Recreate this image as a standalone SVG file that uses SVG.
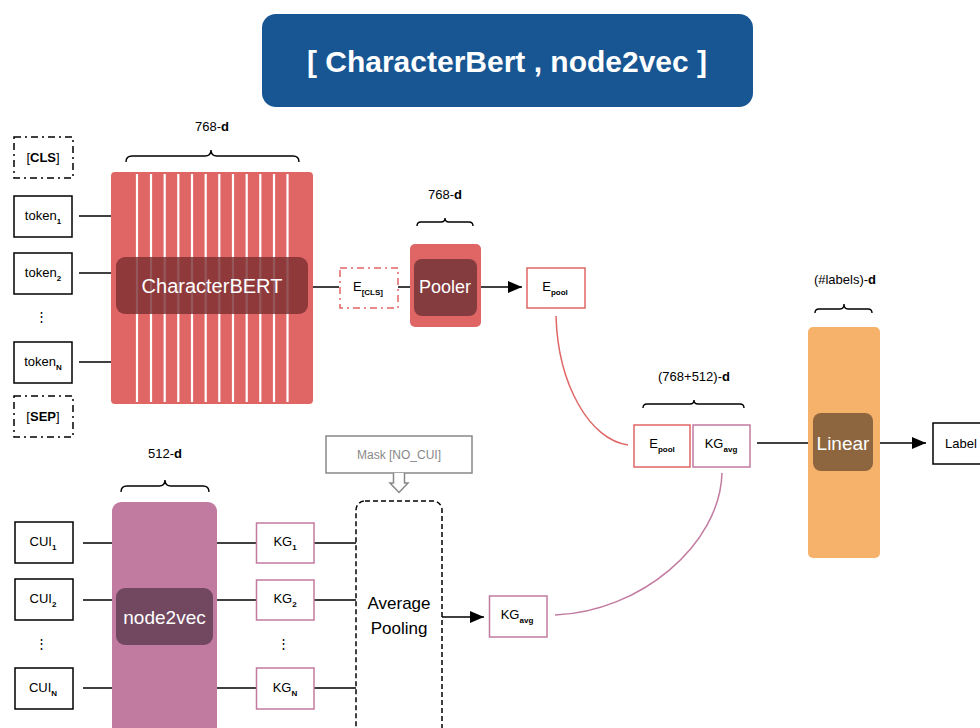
<svg xmlns="http://www.w3.org/2000/svg" width="980" height="728" viewBox="0 0 980 728">
<style>
text{font-family:"Liberation Sans",Arial,sans-serif;fill:#000}
.lbl{font-size:13px;text-anchor:middle}
.sub{font-size:8px;font-weight:bold}
.box{fill:#fff;stroke:#000;stroke-width:1.5}
.dd{fill:#fff;stroke:#000;stroke-width:1.5;stroke-dasharray:7 4 2 4}
.rbox{fill:#fff;stroke:#E06666;stroke-width:1.5}
.pbox{fill:#fff;stroke:#C27BA0;stroke-width:1.5}
.wt{fill:#fff;text-anchor:middle}
.ln{stroke:#000;stroke-width:1.5;fill:none}
.brace{stroke:#000;stroke-width:1.4;fill:none}
.dim{font-size:13px;text-anchor:middle}
</style>
<defs>
<marker id="ah2" viewBox="0 0 14 12" refX="14" refY="6" markerWidth="14" markerHeight="12" markerUnits="userSpaceOnUse" orient="auto">
<path d="M0,0 L14,6 L0,12 z" fill="#000"/>
</marker>
</defs>

<g id="title">
<rect x="262" y="14" width="491" height="93" rx="14" fill="#175693"/>
<text x="507" y="72" text-anchor="middle" style="font-size:30px;font-weight:bold;fill:#fff">[ CharacterBert , node2vec ]</text>
</g>

<g id="dims">
<path class="brace" d="M126,162 Q126,156 132,156 L205,156 Q211,156 211,150 Q211,156 217,156 L293,156 Q299,156 299,162"/>
<text class="dim" x="212" y="131">768-<tspan font-weight="bold">d</tspan></text>
<path class="brace" d="M417,226 Q417,222 421,222 L441,222 Q445,222 445,218 Q445,222 449,222 L469,222 Q473,222 473,226"/>
<text class="dim" x="445" y="199">768-<tspan font-weight="bold">d</tspan></text>
<path class="brace" d="M643,408 Q643,404 647,404 L690,404 Q694,404 694,400 Q694,404 698,404 L740,404 Q744,404 744,408"/>
<text class="dim" x="694" y="381">(768+512)-<tspan font-weight="bold">d</tspan></text>
<path class="brace" d="M815,313 Q815,309 819,309 L840,309 Q844,309 844,304 Q844,309 848,309 L868,309 Q872,309 872,313"/>
<text class="dim" x="845" y="284">(#labels)-<tspan font-weight="bold">d</tspan></text>
<path class="brace" d="M121,492 Q121,486 127,486 L159,486 Q165,486 165,480 Q165,486 171,486 L203,486 Q209,486 209,492"/>
<text class="dim" x="165" y="458">512-<tspan font-weight="bold">d</tspan></text>
</g>

<g id="connectors">
<line class="ln" x1="79" y1="216" x2="111" y2="216"/>
<line class="ln" x1="79" y1="273" x2="111" y2="273"/>
<line class="ln" x1="79" y1="362" x2="111" y2="362"/>
<line class="ln" x1="313" y1="287" x2="339" y2="287"/>
<line class="ln" x1="398" y1="287" x2="410" y2="287"/>
<line class="ln" x1="481" y1="287" x2="522" y2="287" marker-end="url(#ah2)"/>
<path d="M556,316 C558,385 590,440 628,445" fill="none" stroke="#E06666" stroke-width="1.5"/>
<path d="M722,473 C720,545 640,612 555,615" fill="none" stroke="#C27BA0" stroke-width="1.5"/>
<line class="ln" x1="757" y1="443" x2="808" y2="443"/>
<line class="ln" x1="880" y1="443" x2="926" y2="443" marker-end="url(#ah2)"/>
<line class="ln" x1="83" y1="543" x2="112" y2="543"/>
<line class="ln" x1="83" y1="600" x2="112" y2="600"/>
<line class="ln" x1="83" y1="688" x2="112" y2="688"/>
<line class="ln" x1="217" y1="543" x2="256" y2="543"/>
<line class="ln" x1="217" y1="600" x2="256" y2="600"/>
<line class="ln" x1="217" y1="688" x2="256" y2="688"/>
<line class="ln" x1="314" y1="543" x2="356" y2="543"/>
<line class="ln" x1="314" y1="600" x2="356" y2="600"/>
<line class="ln" x1="314" y1="688" x2="356" y2="688"/>
<line class="ln" x1="442" y1="617" x2="484" y2="617" marker-end="url(#ah2)"/>
</g>

<g id="cls">
<rect class="dd" x="14" y="137" width="59" height="41"/>
<text class="lbl" x="43" y="162">[<tspan font-weight="bold">CLS</tspan>]</text>
</g>
<g id="token1">
<rect class="box" x="14" y="196" width="58" height="41"/>
<text class="lbl" x="43" y="220">token<tspan class="sub" dy="4">1</tspan></text>
</g>
<g id="token2">
<rect class="box" x="14" y="253" width="58" height="41"/>
<text class="lbl" x="43" y="277">token<tspan class="sub" dy="4">2</tspan></text>
</g>
<text class="lbl" x="41" y="321">⋮</text>
<g id="tokenN">
<rect class="box" x="14" y="342" width="58" height="41"/>
<text class="lbl" x="43" y="366">token<tspan class="sub" dy="4">N</tspan></text>
</g>
<g id="sep">
<rect class="dd" x="14" y="396" width="59" height="41"/>
<text class="lbl" x="43" y="421">[<tspan font-weight="bold">SEP</tspan>]</text>
</g>

<g id="characterbert">
<rect x="111" y="172" width="202" height="232" rx="4" fill="#E06666"/>
<g stroke="#fff" stroke-width="2.2">
<line x1="137" y1="174" x2="137" y2="402"/>
<line x1="151" y1="174" x2="151" y2="402"/>
<line x1="164.7" y1="174" x2="164.7" y2="402"/>
<line x1="178.3" y1="174" x2="178.3" y2="402"/>
<line x1="192" y1="174" x2="192" y2="402"/>
<line x1="205.7" y1="174" x2="205.7" y2="402"/>
<line x1="219.3" y1="174" x2="219.3" y2="402"/>
<line x1="233" y1="174" x2="233" y2="402"/>
<line x1="246.7" y1="174" x2="246.7" y2="402"/>
<line x1="260.3" y1="174" x2="260.3" y2="402"/>
<line x1="274" y1="174" x2="274" y2="402"/>
<line x1="287.5" y1="174" x2="287.5" y2="402"/>
</g>
<rect x="116" y="257" width="192" height="57" rx="9" fill="#7A2E31" fill-opacity="0.8"/>
<text class="wt" x="212" y="293" style="font-size:20px">CharacterBERT</text>
</g>

<g id="ecls">
<rect x="340" y="268" width="58" height="40" fill="#fff" stroke="#E06666" stroke-width="1.5" stroke-dasharray="7 4 2 4"/>
<text class="lbl" x="368" y="291">E<tspan class="sub" dy="4">[CLS]</tspan></text>
</g>

<g id="pooler">
<rect x="410" y="244" width="71" height="83" rx="5" fill="#E06666"/>
<rect x="414" y="259" width="63" height="57" rx="8" fill="#843C3F"/>
<text class="wt" x="445" y="293" style="font-size:18px">Pooler</text>
</g>

<g id="epool">
<rect class="rbox" x="527" y="268" width="58" height="40"/>
<text class="lbl" x="555" y="291">E<tspan class="sub" dy="4">pool</tspan></text>
</g>

<g id="concat">
<rect class="rbox" x="634" y="425" width="56" height="42"/>
<text class="lbl" x="662" y="448">E<tspan class="sub" dy="4">pool</tspan></text>
<rect class="pbox" x="693" y="425" width="57" height="42"/>
<text class="lbl" x="721" y="448">KG<tspan class="sub" dy="4">avg</tspan></text>
</g>

<g id="linear">
<rect x="808" y="327" width="72" height="231" rx="5" fill="#F6B26B"/>
<rect x="813" y="413" width="60" height="58" rx="8" fill="#8D6640"/>
<text class="wt" x="843" y="450" style="font-size:19px">Linear</text>
</g>

<g id="label">
<rect class="box" x="933" y="423" width="60" height="41"/>
<text x="945" y="448" style="font-size:13px">Label</text>
</g>

<g id="cui1">
<rect class="box" x="15" y="522" width="58" height="41"/>
<text class="lbl" x="43" y="546">CUI<tspan class="sub" dy="4">1</tspan></text>
</g>
<g id="cui2">
<rect class="box" x="15" y="579" width="58" height="41"/>
<text class="lbl" x="43" y="603">CUI<tspan class="sub" dy="4">2</tspan></text>
</g>
<text class="lbl" x="41" y="648">⋮</text>
<g id="cuiN">
<rect class="box" x="15" y="668" width="58" height="41"/>
<text class="lbl" x="43" y="692">CUI<tspan class="sub" dy="4">N</tspan></text>
</g>

<g id="node2vec">
<rect x="112" y="502" width="105" height="240" rx="9" fill="#C27BA0"/>
<rect x="116" y="588" width="97" height="57" rx="9" fill="#714860"/>
<text class="wt" x="164.5" y="624" style="font-size:19px">node2vec</text>
</g>

<g id="kg1">
<rect class="pbox" x="256.5" y="523" width="57.5" height="40"/>
<text class="lbl" x="285" y="546">KG<tspan class="sub" dy="4">1</tspan></text>
</g>
<g id="kg2">
<rect class="pbox" x="256.5" y="580" width="57.5" height="40"/>
<text class="lbl" x="285" y="603">KG<tspan class="sub" dy="4">2</tspan></text>
</g>
<text class="lbl" x="283" y="648">⋮</text>
<g id="kgN">
<rect class="pbox" x="256.5" y="668" width="57.5" height="41"/>
<text class="lbl" x="285" y="692">KG<tspan class="sub" dy="4">N</tspan></text>
</g>

<g id="mask">
<rect x="326" y="436" width="146" height="37" fill="#fff" stroke="#888" stroke-width="1.5"/>
<text x="399" y="459" text-anchor="middle" style="font-size:12px;fill:#888">Mask [NO_CUI]</text>
<path d="M393.5,473 L393.5,483 L390,483 L399,492.5 L408,483 L404.5,483 L404.5,473" fill="#fff" stroke="#888" stroke-width="1.5"/>
</g>

<g id="avgpool">
<rect x="356" y="501" width="86" height="245" rx="9" fill="#fff" stroke="#000" stroke-width="1.5" stroke-dasharray="5 3"/>
<text x="399" y="609" text-anchor="middle" style="font-size:17px">Average</text>
<text x="399" y="634" text-anchor="middle" style="font-size:17px">Pooling</text>
</g>

<g id="kgavg">
<rect class="pbox" x="489.5" y="596" width="57.5" height="41"/>
<text class="lbl" x="517" y="619">KG<tspan class="sub" dy="4">avg</tspan></text>
</g>
</svg>
